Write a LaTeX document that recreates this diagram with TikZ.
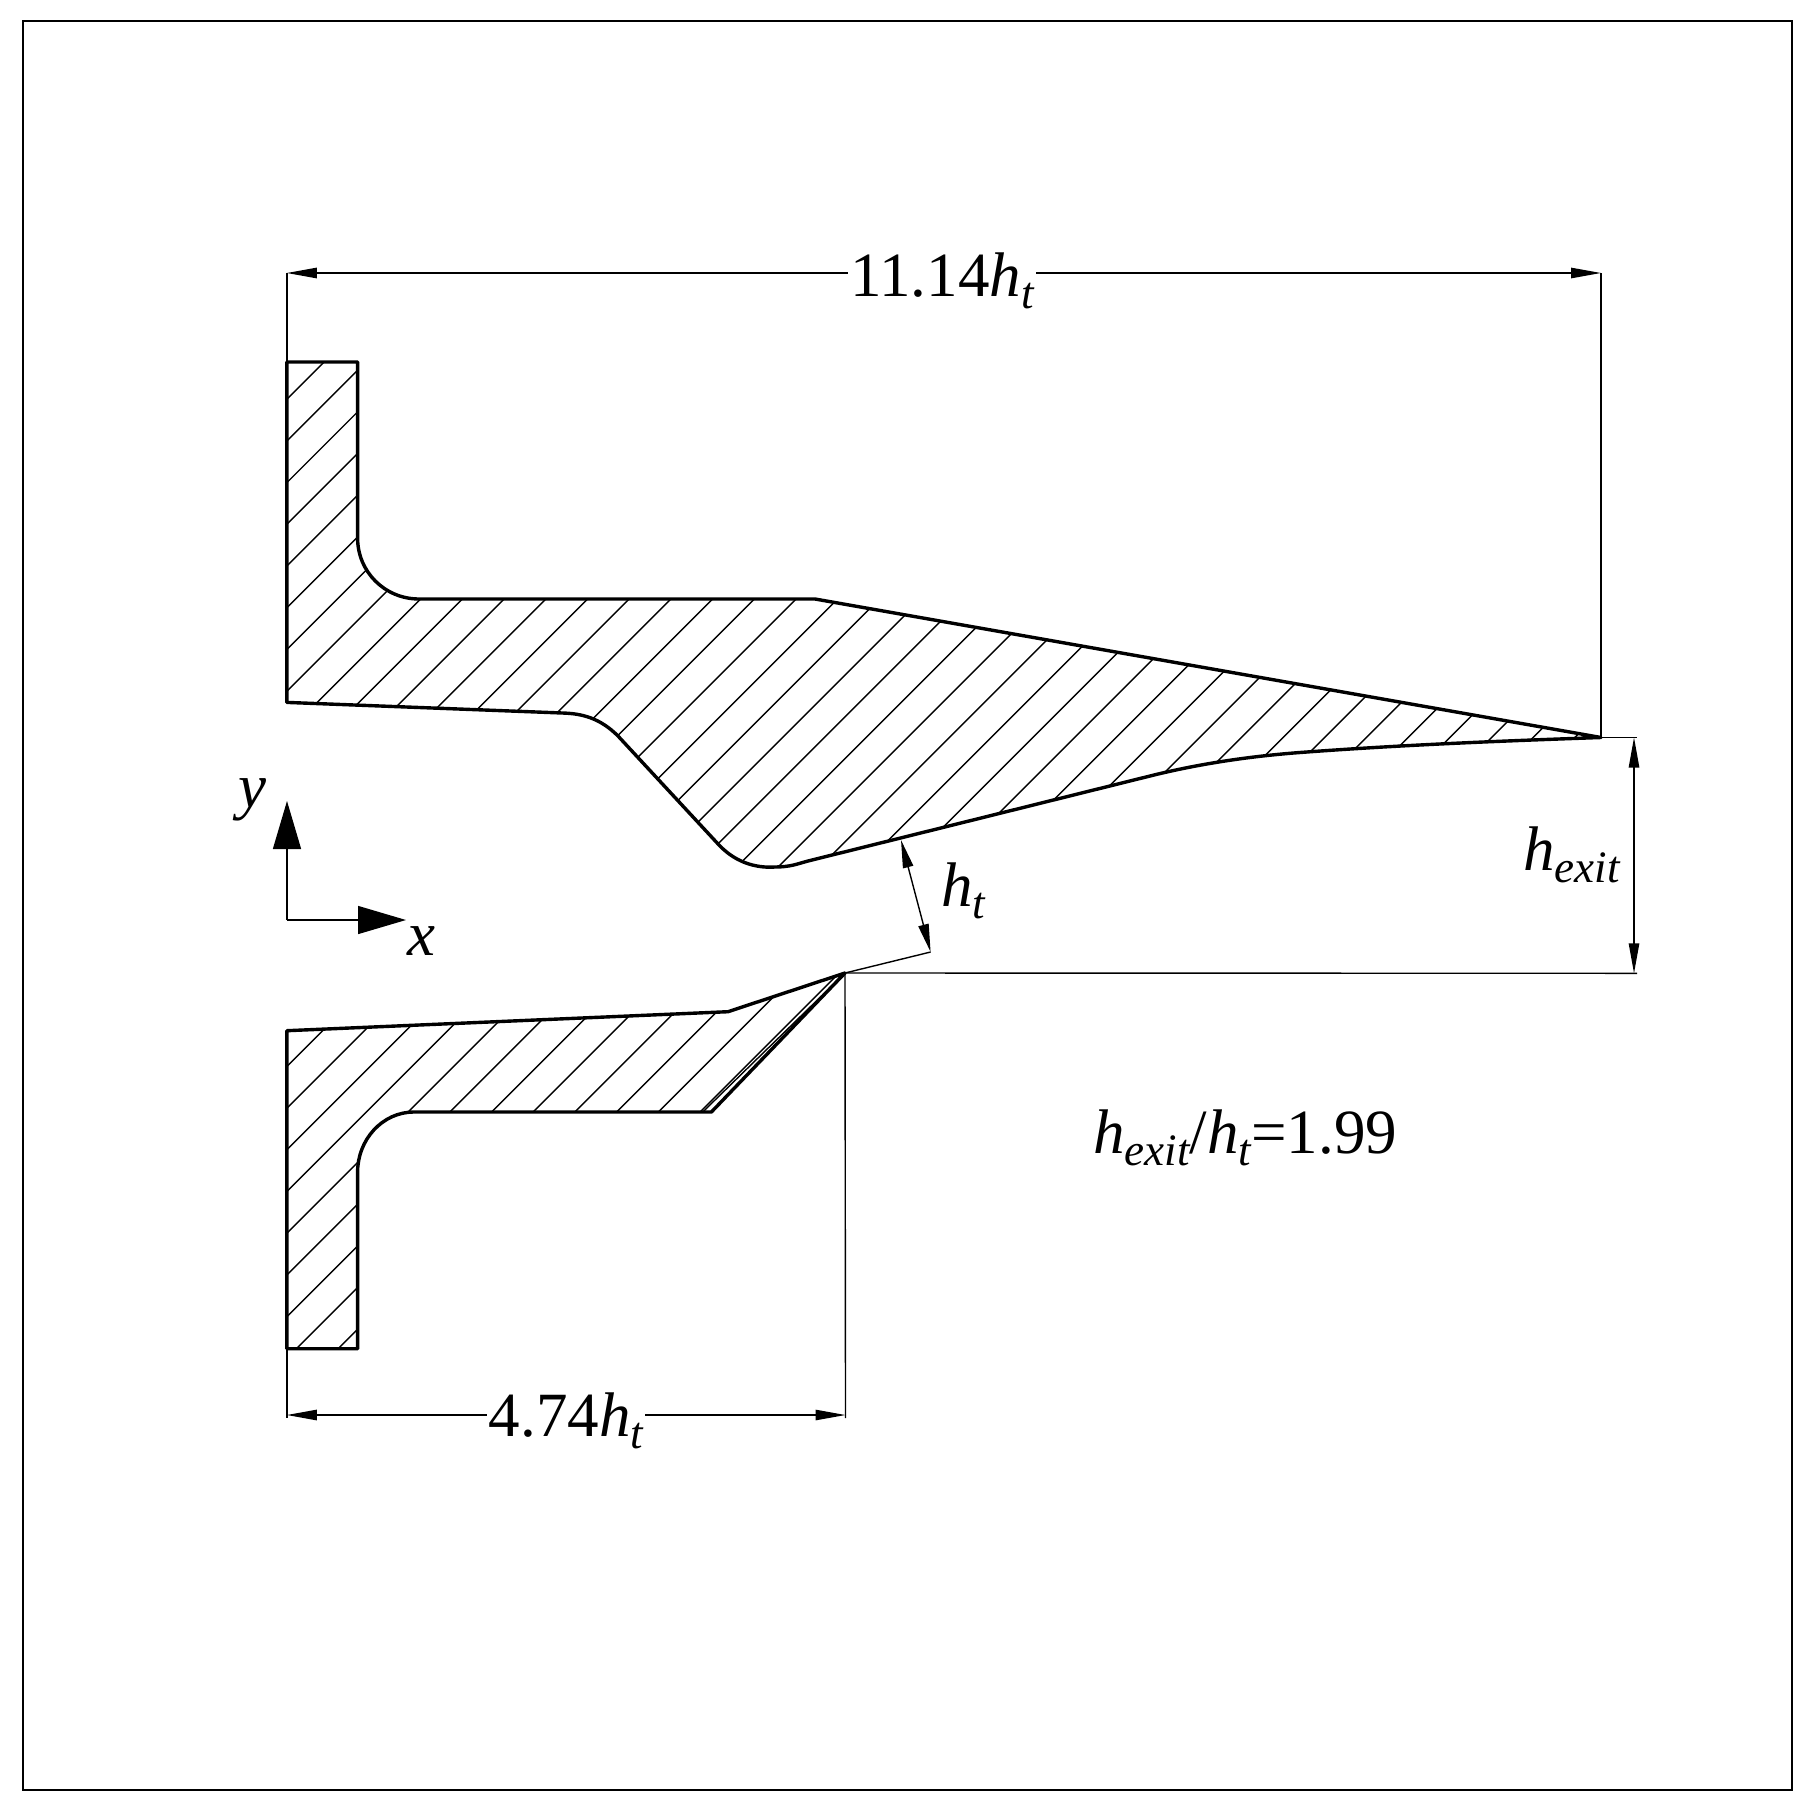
\documentclass[tikz,border=0pt]{standalone}
\usepackage{fontspec}
\setmainfont{Liberation Serif}
\usetikzlibrary{arrows.meta}
\newcommand{\bigfont}{\fontsize{31.5}{36}\selectfont}
\newcommand{\subfont}{\fontsize{22.5}{24}\selectfont}
\newcommand{\subit}[1]{\raisebox{-0.2em}{\subfont\itshape #1}}
\newcommand{\hsub}[1]{{\itshape h}\subit{#1}}
\tikzset{
  px/.style={x=0.5pt,y=-0.5pt},
  wall/.style={line width=1.7pt,line join=round},
  thin dim/.style={line width=0.7pt,black},
  hatch/.style={line width=0.7pt,black},
  dimarrow/.style={line width=0.7pt,{Triangle[length=15pt,width=5.2pt]}-{Triangle[length=15pt,width=5.2pt]}},
  smallarrow/.style={line width=0.7pt,{Triangle[length=14pt,width=5.2pt]}-{Triangle[length=14pt,width=5.2pt]}},
  axisarrow/.style={line width=0.7pt,-{Triangle[length=24pt,width=14pt]}},
  lab/.style={inner sep=0pt,anchor=base west,font=\bigfont},
  gaplab/.style={fill=white,inner xsep=1pt,inner ysep=0pt,font=\bigfont}
}
\newcommand{\upperwall}{(286.8,362) -- (357.6,362) -- (357.6,538)
  .. controls (357.6,572) and (385,599) .. (419,599) -- (815,599) -- (1601,737.5)
  .. controls (1500,741) and (1400,745) .. (1300,752.5)
  .. controls (1240,757) and (1190,766) .. (1150,776)
  -- (808,861) .. controls (797,864) and (790,867) .. (775,867)
  .. controls (760,868) and (738,865) .. (719,845)
  -- (618,736) .. controls (600,718) and (582,713.5) .. (562.3,713) -- (286.8,702.4) -- cycle}
\newcommand{\lowerwall}{(286.8,1030.7) -- (728,1011.7) -- (845,973) -- (711.4,1112) -- (414,1112)
  .. controls (382,1112) and (357.6,1140) .. (357.6,1172) -- (357.6,1348.7) -- (286.8,1348.7) -- cycle}
\begin{document}
\begin{tikzpicture}[px]
\useasboundingbox (0,0) rectangle (1814,1814);
\fill[white] (0,0) rectangle (1814,1814);
\draw[line width=1pt] (23,21) rectangle (1792,1790);

% hatching
\begin{scope}
  \path[clip] \upperwall;
  \foreach \k in {0,...,40}{
    \pgfmathsetmacro{\c}{686.1+41.7*\k}
    \draw[hatch] (200,\c-200) -- (1700,\c-1700);
  }
\end{scope}
\begin{scope}
  \path[clip] (286.8,1030.7) -- (728,1011.7) -- (845,973) -- (702.7,1112) -- (414,1112)
  .. controls (382,1112) and (357.6,1140) .. (357.6,1172) -- (357.6,1348.7) -- (286.8,1348.7) -- cycle;
  \foreach \k in {15,...,40}{
    \pgfmathsetmacro{\c}{686.1+41.7*\k}
    \draw[hatch] (200,\c-200) -- (1700,\c-1700);
  }
\end{scope}

% named points
\coordinate (tip) at (1601,737.5);
\coordinate (throat) at (845,973);
\coordinate (topleft) at (286.8,362);
\coordinate (botleft) at (286.8,1348.7);
\coordinate (dimTL) at (286.8,273);
\coordinate (dimTR) at (1601,273);
\coordinate (dimBL) at (286.8,1415);
\coordinate (dimBR) at (845.5,1415);
\coordinate (extBL) at (286.8,1418);
\coordinate (extBR) at (845.5,1418);
\coordinate (exitT) at (1634,737.5);
\coordinate (exitB) at (1634,973.3);
\coordinate (extE1) at (1637,737.5);
\coordinate (extE2) at (1637,973.3);
\coordinate (htT) at (901,840);
\coordinate (htB) at (930.6,952);
\coordinate (orig) at (287,920);
\coordinate (yTip) at (287,801);
\coordinate (xTip) at (406,920);
\coordinate (innerB) at (702.7,1112);

% walls
\draw[wall] \upperwall;
\draw[wall] \lowerwall;
\draw[hatch] (throat) -- (innerB);

% extension lines
\draw[thin dim] (dimTL) -- (topleft);
\draw[thin dim] (dimTR) -- (tip);
\draw[thin dim] (tip) -- (extE1);
\draw[thin dim] (throat) -- (extE2);
\draw[thin dim] (botleft) -- (extBL);
\draw[thin dim] (throat) -- (extBR);
\draw[thin dim] (throat) -- (htB);

% dimensions
\draw[dimarrow] (dimTL) -- (dimTR);
\draw[dimarrow] (dimBL) -- (dimBR);
\draw[dimarrow] (exitT) -- (exitB);
\draw[smallarrow] (htT) -- (htB);

% axes
\draw[axisarrow] (orig) -- (yTip);
\draw[axisarrow] (orig) -- (xTip);

% labels
\node[gaplab,anchor=base] (ltop) at (942,296) {11.14\hsub{t}};
\node[gaplab,anchor=base] (lbot) at (566,1436) {4.74\hsub{t}};
\node[lab] (lht) at (941,906) {\hsub{t}};
\node[lab] (lexit) at (1523,870) {\hsub{exit}};
\node[lab] (lratio) at (1093,1153) {\hsub{exit}/\hsub{t}=1.99};
\node[lab] (lx) at (407,955) {\itshape x};
\node[lab] (ly) at (238,807) {\itshape y};
\end{tikzpicture}
\end{document}
